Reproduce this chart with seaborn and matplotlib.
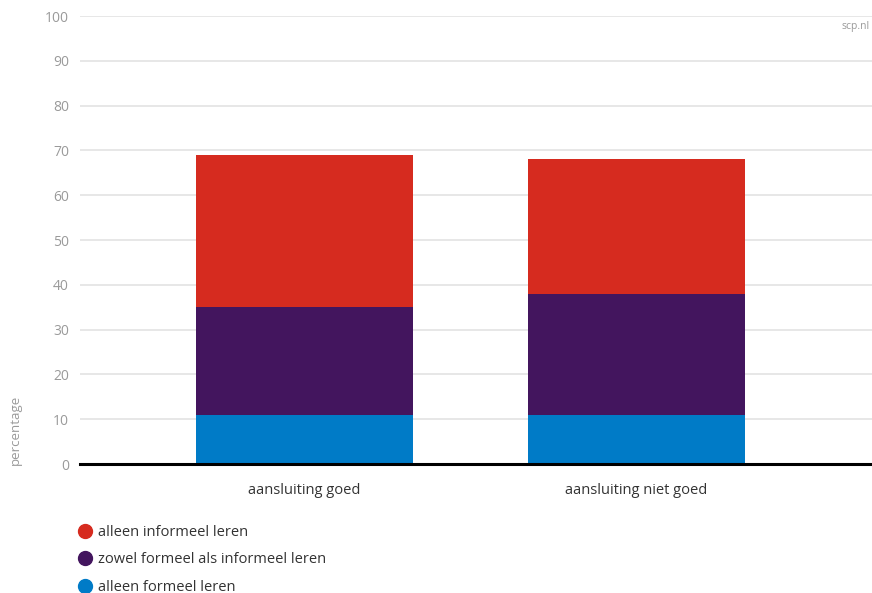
import matplotlib
matplotlib.use("Agg")
import matplotlib.pyplot as plt
from matplotlib.lines import Line2D
import pandas as pd
import seaborn as sns

# Data (percentages)
categories = ["aansluiting goed", "aansluiting niet goed"]
alleen_formeel = [11, 11]
zowel_beide = [24, 27]
alleen_informeel = [34, 30]

series_labels = [
    "alleen informeel leren",
    "zowel formeel als informeel leren",
    "alleen formeel leren",
]
COLORS = {
    "alleen informeel leren": "#d62b1f",
    "zowel formeel als informeel leren": "#43155e",
    "alleen formeel leren": "#007bc7",
}

sns.set_theme(style="white")
plt.rcParams["font.family"] = ["Open Sans", "DejaVu Sans"]

df = pd.DataFrame({
    "categorie": categories,
    "formeel": alleen_formeel,
    "beide": zowel_beide,
    "informeel": alleen_informeel,
})
df["top_beide"] = df["formeel"] + df["beide"]
df["top_informeel"] = df["top_beide"] + df["informeel"]

fig = plt.figure(figsize=(8.72, 5.93), dpi=100)
ax = fig.add_axes([80 / 872, 1 - 464 / 593, 1 - 80 / 872, (464 - 16) / 593])

# Stacked bars: draw cumulative totals from back to front
for col, label in [("top_informeel", series_labels[0]),
                   ("top_beide", series_labels[1]),
                   ("formeel", series_labels[2])]:
    sns.barplot(data=df, x="categorie", y=col, color=COLORS[label],
                width=0.654, saturation=1, linewidth=0, ax=ax, zorder=3)

ax.set_ylim(0, 100)
ax.set_xlim(-0.676, 1.71)
ax.set_yticks(range(0, 101, 10))
ax.yaxis.grid(True, color="#e3e3e3", linewidth=1.2, zorder=0)
ax.set_axisbelow(True)
for side in ["top", "right", "left"]:
    ax.spines[side].set_visible(False)
ax.spines["bottom"].set_color("black")
ax.spines["bottom"].set_linewidth(2.2)
ax.spines["bottom"].set_zorder(5)

ax.tick_params(axis="y", length=0, pad=8, labelsize=10, labelcolor="#9a9a9a")
ax.tick_params(axis="x", length=0, pad=14, labelsize=10.5, labelcolor="#333333")
ax.set_xlabel("")
ax.set_ylabel("")

fig.text(15 / 872, 1 - 465 / 593, "percentage", rotation=90, ha="center",
         va="bottom", fontsize=9.5, color="#9a9a9a")
fig.text(870 / 872, 1 - 27 / 593, "scp.nl", ha="right", va="center",
         fontsize=7.5, color="#9a9a9a")

handles = [Line2D([0], [0], marker="o", linestyle="", markersize=10,
                  markerfacecolor=COLORS[l], markeredgecolor=COLORS[l])
           for l in series_labels]
fig.legend(handles, series_labels, loc="upper left",
           bbox_to_anchor=(72 / 872, 1 - 519 / 593), frameon=False,
           fontsize=10.5, labelcolor="#333333", handletextpad=0.35,
           labelspacing=0.86, handlelength=1.0, borderaxespad=0)

fig.savefig("out.png", dpi=100)
